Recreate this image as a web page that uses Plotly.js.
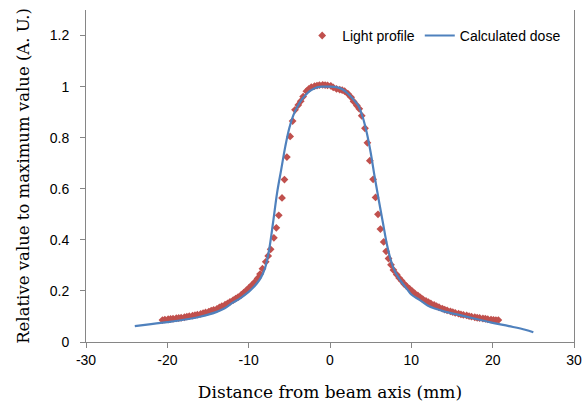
<!DOCTYPE html>
<html>
<head>
<meta charset="utf-8">
<script src="https://cdn.plot.ly/plotly-3.0.1.min.js"></script>
<style>
  html, body { margin: 0; padding: 0; background: #fff; }
  #chart { width: 583px; height: 402px; }
</style>
</head>
<body>
<div id="chart"></div>
<script>
// Light profile (measured points)
var lightX = [
  -20.6, -20.3, -19.9, -19.6, -19.3, -18.9, -18.6, -18.3, -17.9, -17.6,
  -17.3, -16.9, -16.6, -16.3, -15.9, -15.6, -15.3, -14.9, -14.6, -14.3,
  -13.9, -13.6, -13.3, -12.9, -12.6, -12.3, -11.9, -11.6, -11.3, -10.9,
  -10.6, -10.3, -9.9, -9.6, -9.3, -8.9, -8.6, -8.3, -7.9, -7.6,
  -7.3, -6.9, -6.6, -6.3, -5.9, -5.6, -5.3, -4.9, -4.6, -4.3,
  -3.9, -3.6, -3.3, -2.9, -2.6, -2.3, -1.9, -1.6, -1.3, -0.9,
  -0.6, -0.3, 0.1, 0.4, 0.8, 1.2, 1.5, 1.8, 2.2, 2.6,
  2.9, 3.3, 3.6, 3.9, 4.3, 4.6, 4.9, 5.3, 5.6, 5.9,
  6.2, 6.6, 6.9, 7.2, 7.5, 7.8, 8.2, 8.5, 8.8, 9.1,
  9.4, 9.8, 10.1, 10.4, 10.8, 11.1, 11.4, 11.8, 12.1, 12.4,
  12.8, 13.1, 13.4, 13.8, 14.1, 14.4, 14.8, 15.1, 15.4, 15.8,
  16.1, 16.4, 16.8, 17.1, 17.4, 17.8, 18.1, 18.4, 18.8, 19.1,
  19.4, 19.8, 20.1, 20.4, 20.7
];
var lightY = [
  0.086, 0.088, 0.089, 0.090, 0.091, 0.093, 0.094, 0.095, 0.097, 0.099,
  0.101, 0.103, 0.105, 0.107, 0.110, 0.113, 0.116, 0.119, 0.123, 0.126,
  0.130, 0.135, 0.140, 0.146, 0.151, 0.157, 0.164, 0.170, 0.176, 0.185,
  0.193, 0.202, 0.214, 0.223, 0.233, 0.249, 0.266, 0.287, 0.314, 0.337,
  0.363, 0.408, 0.447, 0.496, 0.564, 0.636, 0.724, 0.805, 0.865, 0.909,
  0.928, 0.943, 0.961, 0.982, 0.991, 0.998, 1.002, 1.004, 1.006, 1.007,
  1.006, 1.005, 1.003, 0.997, 0.991, 0.988, 0.986, 0.982, 0.972, 0.958,
  0.942, 0.926, 0.913, 0.886, 0.837, 0.780, 0.710, 0.637, 0.566, 0.500,
  0.442, 0.392, 0.355, 0.327, 0.302, 0.282, 0.264, 0.251, 0.240, 0.228,
  0.219, 0.208, 0.199, 0.191, 0.182, 0.175, 0.168, 0.161, 0.156, 0.151,
  0.145, 0.140, 0.136, 0.131, 0.127, 0.124, 0.120, 0.117, 0.114, 0.111,
  0.108, 0.106, 0.104, 0.101, 0.099, 0.097, 0.095, 0.094, 0.092, 0.091,
  0.089, 0.088, 0.087, 0.086, 0.086
];

// Calculated dose (line)
var doseX = [
  -24, -22, -20, -18, -16, -14, -13, -12, -11, -10,
  -9.5, -9, -8.5, -8, -7.5, -7, -6.5, -6, -5.5, -5,
  -4.5, -4, -3.5, -3, -2.5, -2, -1.5, -1, -0.5, 0,
  0.5, 1, 1.5, 2, 2.5, 3, 3.5, 4, 4.5, 5,
  5.5, 6, 6.5, 7, 7.5, 8, 8.5, 9, 9.5, 10,
  11, 12, 13, 14, 16, 18, 20, 22, 24, 25
];
var doseY = [
  0.062, 0.070, 0.078, 0.087, 0.099, 0.117, 0.131, 0.153, 0.172, 0.196,
  0.211, 0.229, 0.252, 0.288, 0.358, 0.468, 0.585, 0.675, 0.765, 0.838,
  0.888, 0.922, 0.948, 0.967, 0.982, 0.992, 0.998, 1.000, 1.000, 1.000,
  0.999, 0.996, 0.990, 0.978, 0.963, 0.945, 0.924, 0.883, 0.822, 0.742,
  0.645, 0.555, 0.468, 0.382, 0.318, 0.275, 0.248, 0.226, 0.206, 0.186,
  0.165, 0.143, 0.130, 0.120, 0.105, 0.090, 0.075, 0.062, 0.048, 0.038
];

var xTickVals = [-30, -20, -10, 0, 10, 20, 30];
var yTickVals = [0, 0.2, 0.4, 0.6, 0.8, 1, 1.2];

var traces = [
  {
    x: lightX, y: lightY, name: 'Light profile',
    type: 'scatter', mode: 'markers',
    marker: { symbol: 'diamond', size: 6, color: '#C0504D' }
  },
  {
    x: doseX, y: doseY, name: 'Calculated dose',
    type: 'scatter', mode: 'lines',
    line: { color: '#4F81BD', width: 2.2, shape: 'spline', smoothing: 1 }
  }
];

var axisGrey = '#868686';
var layout = {
  width: 583, height: 402,
  margin: { l: 86, r: 9, t: 10, b: 60 },
  paper_bgcolor: '#ffffff', plot_bgcolor: '#ffffff',
  showlegend: true,
  legend: {
    orientation: 'h', x: 0.443, y: 0.922, xanchor: 'left', yanchor: 'middle',
    bgcolor: 'rgba(0,0,0,0)',
    font: { family: 'Liberation Sans, Arial, sans-serif', size: 14, color: '#000' },
    itemwidth: 30, tracegroupgap: 0
  },
  xaxis: {
    range: [-30, 30], tickvals: xTickVals, ticktext: xTickVals.map(String),
    showgrid: false, zeroline: false,
    showline: true, linecolor: axisGrey, linewidth: 1,
    ticks: 'outside', ticklen: 5, tickcolor: axisGrey,
    tickfont: { family: 'Liberation Sans, Arial, sans-serif', size: 14, color: '#000' },
    title: { text: 'Distance from beam axis (mm)', standoff: 19,
             font: { family: 'DejaVu Serif, serif', size: 17, color: '#000' } }
  },
  yaxis: {
    range: [0, 1.3], tickvals: yTickVals, ticktext: ['0', '0.2', '0.4', '0.6', '0.8', '1', '1.2'],
    showgrid: false, zeroline: false,
    showline: true, mirror: true, linecolor: axisGrey, linewidth: 1,
    ticks: 'outside', ticklen: 5, tickcolor: axisGrey,
    ticklabelstandoff: 8,
    tickfont: { family: 'Liberation Sans, Arial, sans-serif', size: 14, color: '#000' },
    title: { text: 'Relative value to maximum value (A. U.)', standoff: 15,
             font: { family: 'DejaVu Serif, serif', size: 16.5, color: '#000' } }
  }
};

Plotly.newPlot('chart', traces, layout, { staticPlot: true, displayModeBar: false });
</script>
</body>
</html>
